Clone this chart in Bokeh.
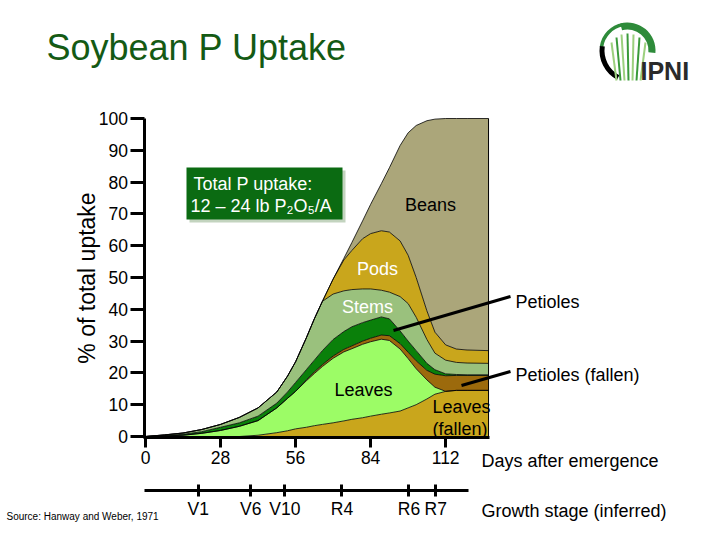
from bokeh.plotting import figure
from bokeh.models import ColumnDataSource, Range1d, LinearAxis, FixedTicker, Label
from bokeh.embed import file_html
from bokeh.resources import INLINE
import math

# ---- data (% of total P uptake per plant part) ----
days = [0, 7, 14, 21, 28, 35, 42, 49, 53, 56, 60, 63, 66, 70, 74, 77, 81, 84,
        88, 91, 95, 98, 101, 105, 108, 112, 116, 120, 128]
leaves_fallen = [0, 0, 0, 0, 0, 0, 0.4, 1.2, 1.8, 2.4, 2.9, 3.4, 3.8, 4.3, 4.9, 5.4, 5.9, 6.4,
                 7.0, 7.4, 8.0, 9.0, 10.0, 11.8, 13.3, 14.2, 14.5, 14.5, 14.5]
leaves = [0, 0.15, 0.4, 1.0, 1.9, 3.2, 4.6, 7.8, 10.2, 11.8, 14.6, 16.4, 18.2, 20.3, 21.7, 22.2, 23.1, 23.4,
          23.6, 22.8, 19.5, 15.5, 11.3, 6.0, 2.2, 0, 0, 0, 0]
petioles_fallen = [0, 0, 0, 0, 0, 0, 0, 0, 0, 0, 0.3, 0.5, 0.6, 0.7, 0.8, 0.9, 1.0, 1.1,
                   1.3, 1.5, 1.7, 2.0, 2.5, 3.0, 4.1, 4.9, 4.7, 4.7, 4.7]
petioles = [0, 0.15, 0.3, 0.5, 1.0, 1.1, 1.4, 1.5, 2.0, 2.8, 3.2, 3.7, 4.4, 5.2, 5.6, 6.0, 5.8, 5.7,
            5.7, 5.3, 4.0, 3.5, 3.2, 2.2, 1.4, 0.6, 0.3, 0.2, 0.2]
stems = [0, 0.2, 0.4, 0.7, 0.9, 1.7, 2.6, 3.5, 5.0, 6.5, 10.0, 13.0, 15.5, 14.3, 12.8, 11.7, 10.6, 9.8,
         8.4, 8.4, 10.8, 11.8, 10.5, 7.5, 5.2, 4.3, 3.8, 3.7, 3.6]
pods = [0, 0, 0, 0, 0, 0, 0, 0, 0, 0, 0, 0, 0, 4.7, 9.7, 12.3, 15.8, 17.4,
        18.7, 18.9, 17.5, 15.2, 12.5, 9.0, 6.6, 4.8, 4.2, 4.1, 4.0]
beans = [0, 0, 0, 0, 0, 0, 0, 0, 0, 0, 0, 0, 0, 0, 0.5, 2.5, 5.6, 9.2,
         14.8, 20.2, 30.0, 38.5, 47.8, 59.8, 67.0, 71.2, 72.5, 72.8, 73.0]

day_ticks = [0, 28, 56, 84, 112]
pct_ticks = [0, 10, 20, 30, 40, 50, 60, 70, 80, 90, 100]
stage_days = [19.7, 39.3, 52.0, 73.3, 98.3, 108.3]
stage_labels = ["V1", "V6", "V10", "R4", "R6", "R7"]

layer_names = ["leaves_fallen", "leaves", "petioles_fallen", "petioles", "stems", "pods", "beans"]
layer_colors = ["#C9A61C", "#9CFC66", "#9C6A0C", "#0A800A", "#9AC17D", "#C9A61C", "#ABA67A"]

# ---- geometry helpers: picture pixel -> data coordinates ----
X0, SX, Y0, SY = 145.0, 2.68, 436.0, 3.18
def dx(px):
    return (px - X0) / SX
def dy(py):
    return (Y0 - py) / SY

FONT = "Liberation Sans"
W, H = 704, 524

p = figure(width=W, height=H, output_backend="svg", toolbar_location=None,
           x_range=Range1d(dx(0), dx(W)), y_range=Range1d(dy(H), dy(0)),
           min_border=0)
p.outline_line_color = None
p.grid.visible = False
p.background_fill_color = "white"
p.border_fill_color = "white"

src = ColumnDataSource(dict(days=days, leaves_fallen=leaves_fallen, leaves=leaves,
                            petioles_fallen=petioles_fallen, petioles=petioles,
                            stems=stems, pods=pods, beans=beans))
p.varea_stack(stackers=layer_names, x="days", color=layer_colors, source=src)
p.vline_stack(stackers=layer_names, x="days", color="black", line_width=0.8, source=src)
p.segment(x0=[days[-1]], y0=[0], x1=[days[-1]], y1=[100], line_color="black", line_width=1)

# ---- axes (placed at fixed data locations) ----
xa = p.xaxis[0]
xa.fixed_location = dy(436.5)
xa.ticker = FixedTicker(ticks=day_ticks)
xa.bounds = (dx(143), 128.4)
xa.axis_line_width = 3
xa.major_tick_line_width = 3
xa.major_tick_out = 10
xa.major_tick_in = 0
xa.minor_tick_line_color = None
xa.major_label_text_font = FONT
xa.major_label_text_font_size = "17.5px"
xa.major_label_text_color = "black"
xa.major_label_standoff = 4

ya = p.yaxis[0]
ya.fixed_location = dx(143.5)
ya.ticker = FixedTicker(ticks=pct_ticks)
ya.bounds = (dy(437), 100)
ya.axis_line_width = 3
ya.major_tick_line_width = 3
ya.major_tick_out = 14
ya.major_tick_in = 0
ya.minor_tick_line_color = None
ya.major_label_text_font = FONT
ya.major_label_text_font_size = "17.5px"
ya.major_label_text_color = "black"
ya.major_label_standoff = 2
ya.axis_label = "% of total uptake"
ya.axis_label_text_font = FONT
ya.axis_label_text_font_size = "23px"
ya.axis_label_text_font_style = "normal"
ya.axis_label_text_color = "black"
ya.axis_label_standoff = -4

ga = LinearAxis(ticker=FixedTicker(ticks=stage_days),
                major_label_overrides={d: s for d, s in zip(stage_days, stage_labels)},
                bounds=(-0.5, 120.5), fixed_location=dy(489.5))
ga.axis_line_width = 3
ga.major_tick_line_width = 3
ga.major_tick_out = 6
ga.major_tick_in = 6
ga.minor_tick_line_color = None
ga.major_label_text_font = FONT
ga.major_label_text_font_size = "17.5px"
ga.major_label_text_color = "black"
ga.major_label_standoff = 3
p.add_layout(ga, "below")

# ---- text ----
def lab(px, py, text, size="18px", color="black", align="left", style="normal"):
    p.add_layout(Label(x=dx(px), y=dy(py), text=text, text_font=FONT, text_font_size=size,
                       text_color=color, text_align=align, text_baseline="middle",
                       text_font_style=style))

# title
lab(46, 47, "Soybean P Uptake", size="36px", color="#145A14")

# total uptake box with shadow
p.quad(left=[dx(189)], right=[dx(345)], top=[dy(170)], bottom=[dy(222)], fill_color="#C3D4BF", line_color=None)
p.quad(left=[dx(186)], right=[dx(342)], top=[dy(167)], bottom=[dy(219)], fill_color="#0B6B12", line_color=None)
lab(193, 183, "Total P uptake:", color="white")
lab(190, 205, "12 \u2013 24 lb P\u2082O\u2085/A", color="white")

# region labels
lab(430, 204, "Beans", align="center")
lab(377, 268, "Pods", color="white", align="center")
lab(367, 306, "Stems", color="white", align="center")
lab(363, 389, "Leaves", align="center")
lab(432, 406, "Leaves")
lab(432, 428, "(fallen)")
lab(515, 301, "Petioles")
lab(515, 374, "Petioles (fallen)")

# leader lines
p.segment(x0=[dx(393), dx(461)], y0=[dy(330), dy(385)], x1=[dx(510), dx(510)], y1=[dy(296), dy(371)],
          line_color="black", line_width=3)

# axis side texts
lab(481, 460, "Days after emergence")
lab(481, 510, "Growth stage (inferred)")
lab(6, 516, "Source: Hanway and Weber, 1971", size="10px")

# ---- IPNI logo ----
p.annular_wedge(x=[dx(627)], y=[dy(50)], inner_radius=21, outer_radius=28,
                inner_radius_units="screen", outer_radius_units="screen",
                start_angle=math.radians(-5), end_angle=math.radians(105),
                fill_color="#2E8B3A", line_color=None)
p.annular_wedge(x=[dx(627)], y=[dy(50)], inner_radius=24.5, outer_radius=28,
                inner_radius_units="screen", outer_radius_units="screen",
                start_angle=math.radians(100), end_angle=math.radians(172),
                fill_color="#2E8B3A", line_color=None)
p.annular_wedge(x=[dx(632)], y=[dy(50)], inner_radius=28, outer_radius=33,
                inner_radius_units="screen", outer_radius_units="screen",
                start_angle=math.radians(172), end_angle=math.radians(242),
                fill_color="black", line_color=None)
gx0 = [616, 620, 624, 628, 632, 636, 640]
gx1 = [611, 616, 621, 627, 633, 639, 645]
gy1 = [42, 37, 34, 33, 34, 37, 42]
gcol = ["#9CD07E", "#3A9A3A", "#9CD07E", "#3A9A3A", "#9CD07E", "#3A9A3A", "#9CD07E"]
p.multi_line(xs=[[dx(a), dx(b)] for a, b in zip(gx0, gx1)],
             ys=[[dy(80), dy(c)] for c in gy1], line_color=gcol, line_width=2)
lab(640, 70, "IPNI", size="25px", color="#2A2A2A", style="bold")

open("out.html", "w").write(file_html(p, INLINE))
